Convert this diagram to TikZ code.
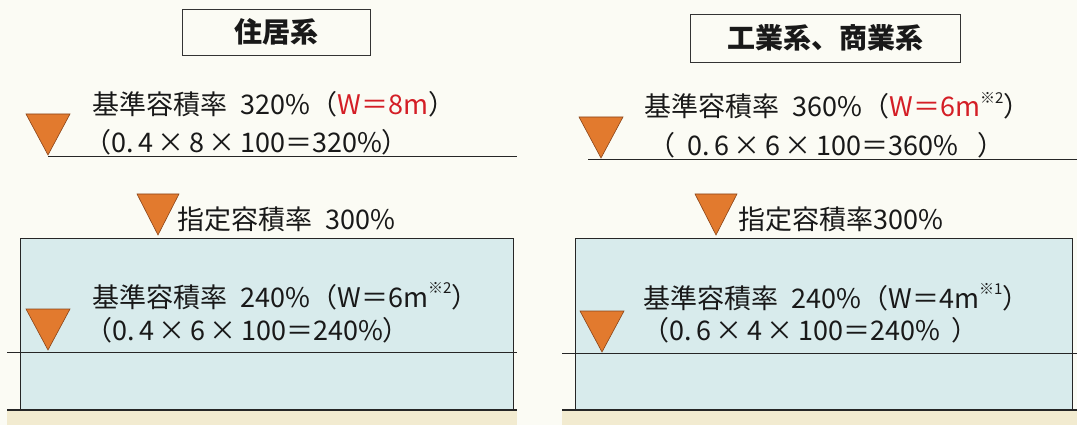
\documentclass[tikz,border=0pt]{standalone}
\usepackage{fontspec}
\setmainfont{Noto Sans CJK JP}
\definecolor{bgc}{HTML}{FBFBF4}
\definecolor{boxc}{HTML}{D8EBEC}
\definecolor{groundc}{HTML}{F2EBD0}
\definecolor{tric}{HTML}{E27A2E}
\definecolor{tribd}{HTML}{8A4418}
\definecolor{redt}{HTML}{D41E26}
\newcommand\sups[1]{\raisebox{0.5em}{\fontsize{15}{15}\selectfont #1}}
\newcommand\tridown[3]{\filldraw[tri] (#1,#2) -- ++(-#3,-41) -- ++(2*#3,0) -- cycle;}
\begin{document}
\begin{tikzpicture}[x=1pt,y=-1pt,
  tri/.style={fill=tric,draw=tribd,line width=0.6pt,line join=miter},
  txt/.style={anchor=west,inner sep=0pt,font=\fontsize{27}{30}\selectfont,text=black!90},
  title/.style={draw=black!80,line width=0.9pt,inner sep=0pt,font=\bfseries\fontsize{28}{30}\selectfont,text=black!90},
  thin/.style={line width=0.8pt,draw=black!85},
  ground/.style={line width=1.3pt,draw=black!85}]
\fill[bgc] (0,0) rectangle (1077,425);
\useasboundingbox (0,0) rectangle (1077,425);
% ground
\fill[groundc] (7,410) rectangle (517,425);
\fill[groundc] (562,410) rectangle (1077,425);
% boxes
\filldraw[fill=boxc,thin] (20,238) rectangle (513,410);
\filldraw[fill=boxc,thin] (575,238) rectangle (1072,410);
\draw[ground] (7,410) -- (517,410);
\draw[ground] (562,410) -- (1077,410);
\draw[thin] (7,352) -- (517,352);
\draw[thin] (562,353) -- (1077,353);
% upper lines
\draw[thin] (48,156) -- (517,156);
\draw[thin] (588,159) -- (1077,159);
% titles
\node[title,minimum width=188pt,minimum height=46pt] (t1) at (276,32) {住居系};
\node[title,minimum width=270pt,minimum height=48pt] (t2) at (825,38) {工業系、商業系};
% triangles
\tridown{48}{155}{22}
\tridown{158}{235}{21}
\tridown{48}{350}{22}
\tridown{601}{158}{22}
\tridown{716}{235}{21}
\tridown{602}{352}{22}
% left texts
\node[txt] (l1) at (92,104.5) {基準容積率\hspace{0.5em}320\%（\textcolor{redt}{W＝8m}）};
\node[txt] (l2) at (84,142) {（0.\,4\,×\,8\,×\,100＝320\%）};
\node[txt] (l3) at (177,219) {指定容積率\hspace{0.5em}300\%};
\node[txt] (l4) at (92,296) {基準容積率\hspace{0.5em}240\%（W＝6m\sups{※2}）};
\node[txt] (l5) at (85,330) {（0.\,4\,×\,6\,×\,100＝240\%）};
% right texts
\node[txt] (r1) at (644,105.5) {基準容積率\hspace{0.5em}360\%（\textcolor{redt}{W＝6m}\sups{※2}）};
\node[txt] (r2) at (648,145) {（\hspace{12pt}0.\,6\,×\,6\,×\,100＝360\%\hspace{20pt}）};
\node[txt] (r3) at (738,219) {指定容積率300\%};
\node[txt] (r4) at (643,297) {基準容積率\hspace{0.5em}240\%（W＝4m\sups{※1}）};
\node[txt] (r5) at (642,330) {（0.\,6\,×\,4\,×\,100＝240\%\hspace{12pt}）};
\end{tikzpicture}
\end{document}
